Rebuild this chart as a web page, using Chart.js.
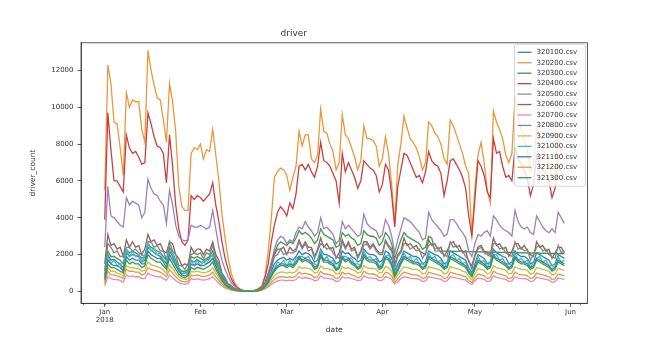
<!DOCTYPE html>
<html>
<head>
<meta charset="utf-8">
<script src="https://cdn.jsdelivr.net/npm/chart.js@4"></script>
<style>
  html, body { margin: 0; padding: 0; background: #fff; }
  canvas { display: block; }
</style>
</head>
<body>
<canvas id="driver" width="650" height="341"></canvas>
<script>
// daily values, 2018-01-01 .. 2018-05-30 (one row = one week, Mon..Sun)
const s320100 = [
  900,2000,1700,1750,1600,1500,1300, 2100,1900,2000,1950,1900,1600,1700,
  2400,2250,2100,2000,1900,1700,1500, 2200,1900,1500,1200,1000,1000,1100,
  1700,1600,1750,1600,1600,1700,1800, 2000,1600,1200,800,500,300,180,
  110,60,35,20,15,15,20, 40,80,180,380,700,1100,1500,
  1700,1800,1850,1700,1800,1700,1900, 2200,2000,2100,2050,1900,1600,1700,
  2300,2000,2000,1900,1800,1500,1600, 2200,2050,2100,1900,1800,1600,1700,
  2300,2100,2000,2000,1900,1600,1700, 2200,2100,1800,1100,1500,1800,2200,
  2100,2000,1900,1900,1800,1500,1600, 2200,2100,2000,1950,1800,1500,1600,
  2200,2100,2000,1900,1800,1700,1300, 1000,1500,2000,1900,1800,1500,1600,
  2300,2100,2000,1900,1850,1500,1600, 2200,2000,1900,1900,1800,1500,1600,
  2100,2000,1900,1800,1700,1400,1500, 2000,1900,1800
];
const s320200 = [
  5500,12300,11300,9200,9100,7800,6300, 10800,10000,10400,10300,10300,8800,8100,
  13100,12000,11200,10500,10400,9300,8100, 11300,10300,8700,5700,4600,4400,4400,
  7500,7800,7700,8000,7200,7700,7600, 8800,7400,6000,4200,2900,1800,1000,
  500,250,120,60,30,20,40, 80,200,250,900,2200,4000,6200,
  6500,6700,6600,6300,5500,6200,6800, 8700,7900,8500,8500,7200,7000,7400,
  9900,8700,8600,8000,7600,6600,7000, 9600,8500,8300,7800,7300,6600,7100,
  9000,8300,8300,8200,7900,6800,7200, 8400,7500,5800,3700,6900,8000,9500,
  8900,8300,8100,7800,7300,6600,7000, 9200,9000,8600,8400,8000,7200,6900,
  9300,9000,8500,8000,7500,6800,6400, 3000,5600,7400,8100,7000,5500,4800,
  9800,9200,8800,8300,7400,7000,7500, 10600,9400,8800,8200,7600,6500,6800,
  8800,8000,7700,7400,7000,6000,6400, 8500,7500,7000
];
const s320300 = [
  1100,2200,1900,1900,1800,1700,1500, 2300,2100,2200,2100,2000,1800,1900,
  2600,2400,2300,2200,2100,1900,1700, 2400,2100,1700,1300,1100,1100,1200,
  1900,1800,1900,1800,1700,1800,1900, 2200,1700,1300,900,600,350,200,
  120,70,40,20,15,15,25, 40,90,200,450,900,1500,2100,
  2500,2700,2600,2500,2700,2600,2900, 3300,3100,3200,3100,2900,2600,2800,
  3400,3100,3000,2900,2800,2400,2500, 3200,3000,3100,2900,2800,2500,2600,
  3300,3100,3000,3000,2900,2500,2700, 3200,3000,2600,1800,2300,2800,3200,
  3000,2900,2800,2700,2600,2300,2400, 3000,2900,2200,null,null,null,null,
  null,null,null,null,null,null,null, null,null,null,null,null,null,null,
  null,null,null,null,null,null,null, null,null,null,null,null,null,null,
  null,null,null,null,null,null,null, null,null,2050
];
const s320400 = [
  3900,9700,7700,6000,6000,5700,5400, 8500,7800,7500,7600,7300,6900,7000,
  9700,9100,8400,7900,7800,7500,5900, 8500,6800,4700,3400,2700,2500,2800,
  5200,5000,5200,5100,4900,5100,5300, 5900,4700,3800,2700,1800,1200,700,
  400,200,100,50,30,20,30, 60,150,300,800,1500,2700,3600,
  4300,4600,4400,4100,4800,4500,5300, 6800,6900,6600,6900,6500,6200,6800,
  8100,7100,7000,6800,6400,6000,4800, 7500,6500,7000,6600,6200,5600,6000,
  7100,6900,6700,6600,6300,5400,5800, 6900,6600,5300,3500,5700,6600,7500,
  7400,7000,6600,6200,6300,5900,6500, 7600,7100,6900,6800,6400,5200,6000,
  7100,7200,6900,6600,6200,5600,4100, 3000,5000,7100,6800,6300,5400,5100,
  8300,7500,7600,6800,6200,6300,6000, 7800,7200,6900,6600,6100,5200,5800,
  7400,6900,6600,6400,6000,5100,5600, 6900,6500,6200
];
const s320500 = [
  2400,5700,4100,4000,3800,3600,3500, 5100,4700,4900,4800,4700,4000,4300,
  6100,5600,5300,5200,4900,4700,3700, 5500,4700,3600,3000,2800,2750,2800,
  3600,3500,3500,3600,3500,3400,3500, 4400,3400,2400,1700,1200,800,500,
  300,150,80,40,20,15,25, 50,100,200,500,1000,1600,2300,
  2800,3000,2900,2600,2800,2700,3200, 3500,3400,3800,3500,3300,3000,3200,
  4000,3400,3500,3300,3100,2600,2800, 3800,3400,3600,3400,3200,3000,3100,
  4200,3700,3500,3400,3300,2900,3100, 3900,3600,3000,2100,2800,3400,4000,
  3900,3800,3600,3400,3200,2800,2900, 4300,3900,3700,3500,3300,3000,3100,
  3900,3900,3700,3400,3200,2900,2200, 1900,2600,3100,3000,3200,3300,3000,
  4100,3900,3600,3400,3300,3200,3000, 4400,3800,3500,3400,3500,3200,3100,
  4100,3800,3500,3300,3200,3400,3200, 4300,4000,3700
];
const s320600 = [
  1500,3100,2500,2600,2300,2400,1900, 2800,2400,2700,2400,2500,2000,2300,
  3100,2700,2800,2500,2600,2200,2100, 2700,2600,2000,1800,1400,1500,1400,
  2400,2100,2300,2300,2000,2300,2200, 2700,2000,1700,1000,750,420,320,
  170,110,50,30,20,20,30, 70,110,260,480,950,1350,2000,
  2300,2300,2400,2000,2400,2200,2300, 2800,2400,2700,2400,2400,1900,2300,
  2900,2400,2600,2300,2400,1800,2100, 2800,2400,2700,2300,2400,1900,2200,
  2700,2700,2400,2600,2300,2100,2100, 2800,2500,2300,1500,2000,2200,2900,
  2500,2600,2400,2500,2200,2100,2000, 2800,2500,2600,2300,2400,1900,2200,
  2600,2700,2400,2500,2100,2200,1600, 1400,2000,2400,2500,2200,2100,2000,
  2900,2500,2600,2300,2400,1900,2200, 2600,2600,2300,2500,2200,2000,1900,
  2700,2400,2500,2200,2300,1800,2100, 2400,2400,2100
];
const s320700 = [
  300,800,700,650,650,600,500, 900,800,850,800,800,700,700,
  1000,900,850,800,800,700,600, 900,750,600,480,420,400,430,
  700,650,700,650,620,650,700, 800,620,450,300,200,130,80,
  50,30,18,10,8,8,10, 18,35,70,140,250,380,500,
  580,620,620,580,620,580,650, 800,720,760,720,690,580,620,
  850,730,730,700,660,540,580, 800,730,760,700,660,580,620,
  850,770,730,730,700,580,620, 800,770,650,400,540,700,800,
  770,730,700,700,660,540,580, 800,770,730,700,660,540,580,
  800,770,730,700,660,620,460, 380,580,730,700,660,540,580,
  850,770,730,700,660,540,580, 800,730,700,700,660,540,580,
  770,730,700,660,620,500,540, 730,700,660
];
const s320800 = [
  1200,2600,2400,2100,2200,1900,1900, 2400,2400,2200,2300,2100,2000,1900,
  2700,2700,2400,2500,2200,2200,1700, 2700,2200,2000,1400,1400,1200,1500,
  2000,2100,2000,2100,1800,2100,2000, 2500,1800,1500,950,700,380,270,
  140,95,45,30,20,20,30, 55,95,240,420,850,1250,1900,
  2000,2300,2000,2100,2100,2100,2200, 2700,2300,2600,2200,2300,1800,2200,
  2600,2500,2300,2400,2100,1900,1800, 2700,2300,2600,2200,2300,1800,2100,
  2500,2600,2300,2500,2200,2000,2000, 2700,2400,2200,1300,1900,2100,2600,
  2600,2300,2400,2200,2300,1800,2100, 2500,2600,2300,2400,2100,2000,1900,
  2700,2400,2500,2200,2200,1900,1700, 1200,1900,2300,2400,2100,2000,1900,
  2600,2600,2300,2400,2100,2000,1900, 2700,2300,2400,2200,2300,1700,2000,
  2400,2500,2200,2300,2000,1900,1800, 2500,2100,2200
];
const s320900 = [
  500,1300,1100,1100,1000,950,850, 1400,1300,1300,1250,1250,1100,1150,
  1600,1450,1400,1350,1300,1150,1000, 1450,1250,1000,800,700,650,700,
  1100,1050,1100,1050,1000,1050,1100, 1300,1000,750,500,320,200,120,
  75,40,22,14,10,10,15, 25,50,110,230,420,650,850,
  1000,1050,1050,1000,1050,1000,1100, 1350,1250,1300,1250,1200,1000,1050,
  1400,1250,1250,1200,1150,950,1000, 1350,1250,1300,1200,1150,1000,1050,
  1400,1300,1250,1250,1200,1000,1050, 1350,1300,1100,650,900,1150,1350,
  1300,1250,1200,1200,1150,950,1000, 1350,1300,1250,1200,1150,950,1000,
  1350,1300,1250,1200,1100,1050,800, 650,950,1250,1200,1150,950,1000,
  1400,1300,1250,1200,1150,950,1000, 1350,1250,1200,1200,1150,950,1000,
  1300,1250,1200,1150,1100,900,950, 1250,1200,1150
];
const s321000 = [
  800,1900,1500,1700,1400,1500,1100, 2300,1900,2200,1900,2000,1600,1900,
  2600,2200,2300,2000,2100,1700,1600, 2200,2100,1500,1300,950,1000,1000,
  1700,1400,1700,1400,1600,1500,1800, 2000,1400,1200,650,480,260,170,
  95,60,30,20,15,15,20, 35,75,140,340,560,1000,1250,
  1600,1500,1700,1400,1700,1400,1800, 1900,1900,1800,1900,1600,1500,1400,
  2200,1700,1900,1600,1700,1200,1500, 1900,1900,1800,1800,1500,1500,1400,
  2200,1800,1900,1700,1800,1300,1600, 1900,2000,1500,1000,1400,1600,2100,
  1800,1900,1600,1800,1500,1500,1400, 2100,1800,1900,1600,1700,1300,1600,
  1900,2000,1700,1800,1500,1600,1100, 950,1300,1900,1600,1700,1300,1600,
  2000,2000,1700,1800,1500,1500,1400, 2100,1700,1800,1600,1700,1300,1600,
  1800,1900,1600,1700,1400,1400,1300, 1900,1600,1700
];
const s321100 = [
  700,1700,1500,1400,1400,1300,1100, 1900,1700,1800,1700,1700,1500,1500,
  2200,2000,1900,1800,1800,1600,1300, 2000,1700,1400,1100,900,850,950,
  1500,1400,1500,1400,1400,1500,1600, 1800,1400,1000,650,400,250,150,
  90,50,30,20,15,15,20, 35,65,140,300,550,900,1200,
  1400,1500,1500,1400,1500,1400,1600, 1900,1700,1800,1700,1600,1300,1400,
  2000,1700,1700,1600,1500,1200,1300, 1900,1700,1800,1600,1500,1300,1400,
  2000,1800,1700,1700,1600,1300,1400, 1900,1800,1500,900,1200,1600,1900,
  1800,1700,1600,1600,1500,1300,1400, 1900,1800,1700,1600,1500,1300,1400,
  1900,1800,1700,1600,1500,1400,1100, 850,1300,1700,1600,1500,1300,1400,
  2000,1800,1700,1600,1500,1300,1400, 1900,1700,1600,1600,1500,1300,1400,
  1800,1700,1600,1500,1400,1200,1300, 1700,1600,1500
];
const s321200 = [
  400,1100,900,900,850,800,700, 1200,1100,1100,1050,1050,900,950,
  1300,1200,1150,1100,1050,950,800, 1200,1000,800,650,550,520,560,
  900,850,900,850,800,850,900, 1050,800,600,400,260,160,100,
  60,35,20,12,9,9,12, 20,40,90,180,320,500,650,
  750,800,800,750,800,750,850, 1050,950,1000,950,900,750,800,
  1100,950,950,900,850,700,750, 1050,950,1000,900,850,750,800,
  1100,1000,950,950,900,750,800, 1050,1000,850,500,700,900,1050,
  1000,950,900,900,850,700,750, 1050,1000,950,900,850,700,750,
  1050,1000,950,900,850,800,600, 500,750,950,900,850,700,750,
  1100,1000,950,900,850,700,750, 1050,950,900,900,850,700,750,
  1000,950,900,850,800,650,700, 950,900,850
];
const s321300 = [
  600,1500,1300,1300,1200,1100,1000, 1700,1500,1600,1500,1500,1300,1400,
  2000,1800,1700,1600,1600,1400,1200, 1800,1500,1200,950,800,750,850,
  1300,1200,1300,1250,1200,1300,1400, 1600,1200,900,600,380,230,140,
  85,45,25,15,12,12,18, 30,60,130,280,500,800,1100,
  1300,1400,1400,1300,1400,1300,1500, 1800,1600,1700,1600,1500,1200,1300,
  1900,1600,1600,1500,1400,1150,1250, 1800,1600,1700,1500,1400,1200,1300,
  1900,1700,1600,1600,1500,1200,1300, 1800,1700,1400,800,1100,1500,1800,
  1700,1600,1500,1500,1400,1200,1300, 1800,1700,1600,1500,1400,1200,1300,
  1800,1700,1600,1500,1400,1300,1000, 800,1200,1600,1500,1400,1200,1300,
  1900,1700,1600,1500,1400,1200,1300, 1800,1600,1500,1500,1400,1200,1300,
  1700,1600,1500,1400,1300,1100,1200, 1600,1500,1400
];

const seriesNames = ['320100.csv','320200.csv','320300.csv','320400.csv','320500.csv','320600.csv','320700.csv',
  '320800.csv','320900.csv','321000.csv','321100.csv','321200.csv','321300.csv'];
const seriesValues = [s320100, s320200, s320300, s320400, s320500, s320600, s320700,
  s320800, s320900, s321000, s321100, s321200, s321300];
const seriesColors = ['#3a7fb0','#e9983e','#3d9a45','#c9413f','#9a82bf','#8d6258','#dd8cc4',
  '#858585','#c0c04a','#3cbccb','#3a7fb0','#e9983e','#3d9a45'];

// x axis: days since 2018-01-01
const monthTicks = [0, 31, 59, 90, 120, 151];
const monthLabels = [['Jan', '2018'], 'Feb', 'Mar', 'Apr', 'May', 'Jun'];
const weekTicks = [-7, 0, 7, 14, 21, 28, 35, 42, 49, 56, 63, 70, 77, 84, 91, 98, 105, 112, 119, 126, 133, 140, 147, 154];
const yTicks = [0, 2000, 4000, 6000, 8000, 10000, 12000];

const FONT = 'DejaVu Sans';
const INK = '#333';

const minorTicks = {
    id: 'minorTicks',
    afterDraw(chart) {
        const {ctx, chartArea, scales} = chart;
        ctx.save();
        ctx.strokeStyle = INK;
        ctx.lineWidth = 0.6;
        weekTicks.forEach(d => {
            const px = Math.round(scales.x.getPixelForValue(d)) + 0.5;
            if (px < chartArea.left || px > chartArea.right) return;
            ctx.beginPath();
            ctx.moveTo(px, chartArea.bottom);
            ctx.lineTo(px, chartArea.bottom + 2);
            ctx.stroke();
        });
        // top and right spines
        ctx.lineWidth = 0.8;
        ctx.strokeRect(chartArea.left, chartArea.top, chartArea.right - chartArea.left, chartArea.bottom - chartArea.top);
        ctx.restore();
    }
};

const legendBox = {
    id: 'legendBox',
    afterDatasetsDraw(chart) {
        const {ctx, chartArea} = chart;
        const sets = chart.data.datasets;
        const w = 71, rowH = 10.45;
        const h = sets.length * rowH + 6;
        const x0 = chartArea.right - 2 - w, y0 = chartArea.top + 1.5;
        ctx.save();
        ctx.fillStyle = 'rgba(255,255,255,0.8)';
        ctx.strokeStyle = '#ccc';
        ctx.lineWidth = 0.8;
        ctx.beginPath();
        ctx.roundRect(x0, y0, w, h, 2);
        ctx.fill();
        ctx.stroke();
        ctx.font = '7px "' + FONT + '"';
        ctx.textBaseline = 'middle';
        sets.forEach((ds, i) => {
            const cy = y0 + 8 + i * rowH;
            ctx.strokeStyle = ds.borderColor;
            ctx.lineWidth = 1.3;
            ctx.beginPath();
            ctx.moveTo(x0 + 3, cy);
            ctx.lineTo(x0 + 17, cy);
            ctx.stroke();
            ctx.fillStyle = INK;
            ctx.fillText(ds.label, x0 + 22, cy);
        });
        ctx.restore();
    }
};

const datasets = seriesNames.map((name, i) => ({
    label: name,
    data: seriesValues[i].map((v, d) => ({x: d, y: v})),
    borderColor: seriesColors[i],
    borderWidth: 1.3,
    pointRadius: 0,
    tension: 0,
    spanGaps: true,
    order: seriesNames.length - i
}));

new Chart(document.getElementById('driver'), {
    type: 'line',
    data: { datasets },
    options: {
        responsive: false,
        animation: false,
        layout: { padding: { left: 0, right: 62.5, top: 0, bottom: 0 } },
        plugins: {
            legend: { display: false },
            tooltip: { enabled: false },
            title: {
                display: true,
                text: 'driver',
                color: INK,
                font: { family: FONT, size: 9, weight: 'normal' },
                padding: { top: 28, bottom: 4 }
            }
        },
        scales: {
            x: {
                type: 'linear',
                min: -7.7,
                max: 156.5,
                afterBuildTicks: s => { s.ticks = monthTicks.map(v => ({value: v})); },
                afterFit: s => { s.height = 37.7; },
                ticks: {
                    callback: (v, i) => monthLabels[i],
                    autoSkip: false,
                    maxRotation: 0,
                    padding: 1,
                    color: INK,
                    font: { family: FONT, size: 7 }
                },
                grid: { drawOnChartArea: false, tickLength: 3.5, color: INK, lineWidth: 0.8 },
                border: { color: INK, width: 0.8 },
                title: {
                    display: true,
                    text: 'date',
                    color: INK,
                    font: { family: FONT, size: 7.5 },
                    padding: { top: 0, bottom: 6.8 }
                }
            },
            y: {
                min: -640,
                max: 13500,
                afterBuildTicks: s => { s.ticks = yTicks.map(v => ({value: v})); },
                afterFit: s => { s.width = 81; },
                ticks: {
                    callback: v => String(v),
                    padding: 4,
                    color: INK,
                    font: { family: FONT, size: 7 }
                },
                grid: { drawOnChartArea: false, tickLength: 3.5, color: INK, lineWidth: 0.8 },
                border: { color: INK, width: 0.8 },
                title: {
                    display: true,
                    text: 'driver_count',
                    color: INK,
                    font: { family: FONT, size: 7.5 },
                    padding: { top: 29, bottom: 0 }
                }
            }
        }
    },
    plugins: [minorTicks, legendBox]
});
</script>
</body>
</html>
